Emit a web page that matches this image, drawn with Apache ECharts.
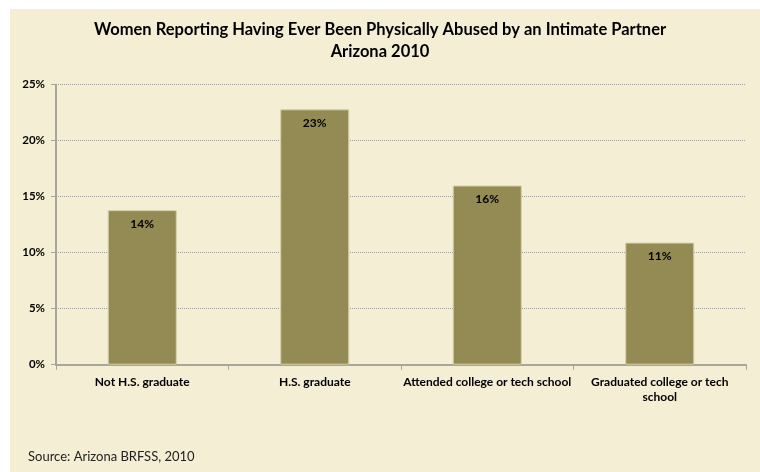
<!DOCTYPE html>
<html>
<head>
<meta charset="utf-8">
<script src="https://cdn.jsdelivr.net/npm/echarts@6/dist/echarts.min.js"></script>
<style>
html,body{margin:0;padding:0;background:#ffffff;}
#wrap{position:absolute;left:10px;top:9px;width:750px;height:463px;background:#F3EED4;}
#chart{position:absolute;left:0;top:0;width:760px;height:472px;}
</style>
</head>
<body>
<div id="wrap"></div>
<div id="chart"></div>
<script>
const categories = ["Not H.S. graduate", "H.S. graduate", "Attended college or tech school", "Graduated college or tech\nschool"];
const values = [13.8, 22.8, 16.0, 10.9];
const labels = ["14%", "23%", "16%", "11%"];
const yTicks = [0, 5, 10, 15, 20, 25];
const titleText = "Women Reporting Having Ever Been Physically Abused by an Intimate Partner\nArizona 2010";
const sourceText = "Source: Arizona BRFSS, 2010";

const chart = echarts.init(document.getElementById('chart'), null, {renderer: 'canvas'});
const font = 'Lato, "Open Sans", sans-serif';
chart.setOption({
  backgroundColor: 'transparent',
  animation: false,
  title: [{
    text: titleText,
    left: 'center',
    top: 19,
    padding: 0,
    textStyle: {fontFamily: font, fontSize: 16.5, fontWeight: 'bold', color: '#000', lineHeight: 22}
  }, {
    text: sourceText,
    left: 28,
    top: 450,
    padding: 0,
    textStyle: {fontFamily: font, fontSize: 13, fontWeight: 'normal', color: '#222'}
  }],
  grid: {left: 56, right: 14, top: 84.7, bottom: 107.3, containLabel: false},
  xAxis: {
    type: 'category',
    data: categories,
    axisLine: {show: true, lineStyle: {color: '#A8A69A', width: 2}},
    axisTick: {show: true, alignWithLabel: false, length: 5, lineStyle: {color: '#A8A69A', width: 1}},
    axisLabel: {fontFamily: font, fontSize: 12, fontWeight: 'bold', color: '#000', margin: 10, lineHeight: 15, interval: 0}
  },
  yAxis: {
    type: 'value',
    min: yTicks[0],
    max: yTicks[yTicks.length - 1],
    interval: 5,
    axisLine: {show: true, lineStyle: {color: '#A8A69A', width: 2}},
    axisTick: {show: true, length: 5, lineStyle: {color: '#A8A69A', width: 1}},
    axisLabel: {fontFamily: font, fontSize: 11.5, fontWeight: 'bold', color: '#000', margin: 11, formatter: v => v + '%'},
    splitLine: {show: true, lineStyle: {color: '#9E9C94', type: [1, 1], width: 1}}
  },
  series: [{
    type: 'bar',
    data: values,
    barWidth: '40%',
    itemStyle: {color: '#948A54', borderColor: '#D4CFA8', borderWidth: 1},
    label: {
      show: true,
      position: 'insideTop',
      distance: 8,
      fontFamily: font, fontSize: 12, fontWeight: 'bold', color: '#000',
      formatter: p => labels[p.dataIndex]
    }
  }]
});
</script>
</body>
</html>
